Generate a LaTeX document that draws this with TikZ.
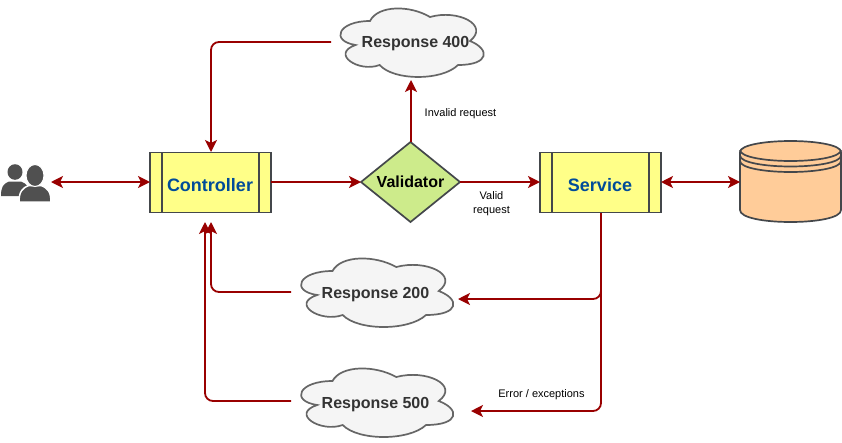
\documentclass[tikz,border=0pt]{standalone}
\usepackage{fontspec}
\setmainfont{Liberation Sans}
\usetikzlibrary{arrows.meta,shapes.geometric}
\definecolor{linkred}{HTML}{990000}
\definecolor{edgegrey}{HTML}{44474B}
\definecolor{cloudgrey}{HTML}{666666}
\definecolor{cloudfill}{HTML}{F5F5F5}
\definecolor{cloudink}{HTML}{333333}
\definecolor{procfill}{HTML}{FFFF88}
\definecolor{procink}{HTML}{004C99}
\definecolor{diafill}{HTML}{CDEB8B}
\definecolor{dbfill}{HTML}{FFCC99}
\definecolor{iconink}{HTML}{505050}
\tikzset{
  arrowtip/.tip={Stealth[length=12pt,width=12pt,inset=3pt]},
  link/.style={draw=linkred,line width=1.8pt,rounded corners=8pt,-{arrowtip}},
  duallink/.style={draw=linkred,line width=1.8pt,{arrowtip}-{arrowtip}},
  procbox/.style={draw=edgegrey,fill=procfill,line width=1.7pt,minimum width=121pt,minimum height=60pt,inner sep=0pt,outer sep=0pt,text=procink,font=\fontsize{18}{21}\selectfont\bfseries},
  procbar/.style={draw=edgegrey,line width=1.7pt},
  gate/.style={diamond,aspect=1.25,draw=edgegrey,fill=diafill,line width=1.7pt,minimum width=99pt,minimum height=80pt,inner sep=0pt,outer sep=0pt,font=\fontsize{16}{19}\selectfont\bfseries},
  cloudpath/.style={draw=cloudgrey,fill=cloudfill,line width=1.7pt},
  cloudlabel/.style={inner sep=0pt,text=cloudink,font=\fontsize{16}{19}\selectfont\bfseries},
  note/.style={inner sep=0pt,align=center,font=\fontsize{11}{14}\selectfont},
  dbshape/.style={draw=edgegrey,fill=dbfill,line width=1.7pt},
  ghost/.style={inner sep=0pt,outer sep=0pt},
}
\newcommand{\cloudat}[4]{%
  \begin{scope}[shift={(#1,#2)},x=#3pt,y=-#4pt]
    \path[cloudpath] (0.25,0.25)
      .. controls (0.05,0.25) and (0,0.5) .. (0.16,0.55)
      .. controls (0,0.66) and (0.18,0.9) .. (0.31,0.8)
      .. controls (0.4,1) and (0.7,1) .. (0.8,0.8)
      .. controls (1,0.8) and (1,0.6) .. (0.875,0.5)
      .. controls (1,0.3) and (0.8,0.1) .. (0.625,0.2)
      .. controls (0.5,0.05) and (0.3,0.05) .. (0.25,0.25) -- cycle;
  \end{scope}}
\begin{document}
\begin{tikzpicture}[x=1pt,y=-1pt]
\useasboundingbox (0,0) rectangle (842,442);
\fill[white] (0,0) rectangle (842,442);

% clouds
\cloudat{330}{1}{160}{80}
\cloudat{290}{251}{170}{80}
\cloudat{290}{361}{170}{80}
\node[cloudlabel] (r400) at (415.5,44) {Response 400};
\node[cloudlabel] (r200) at (375.5,294.5) {Response 200};
\node[cloudlabel] (r500) at (375.5,404.5) {Response 500};
\coordinate (r400out) at (331,42);
\coordinate (r400in) at (411,80);
\coordinate (r200out) at (291,292);
\coordinate (r200in) at (458,299);
\coordinate (r500out) at (291,401);
\coordinate (r500in) at (471,411);

% process boxes
\node[procbox] (ctrl) at (210.5,182.5) {};
\node[inner sep=0pt,text=procink,font=\fontsize{18}{21}\selectfont\bfseries] (ctrlText) at (210,185.5) {Controller};
\draw[procbar] (162,152) -- (162,213) (259,152) -- (259,213);
\node[procbox] (svc) at (600.5,182.5) {};
\node[inner sep=0pt,text=procink,font=\fontsize{18}{21}\selectfont\bfseries] (svcText) at (600,185.5) {Service};
\draw[procbar] (552,152) -- (552,213) (649,152) -- (649,213);
\coordinate (ctrlN) at (211,152);
\coordinate (ctrlSa) at (211,222);
\coordinate (ctrlSb) at (205,222);
\coordinate (ctrlW) at (150,182);
\coordinate (ctrlE) at (271,182);
\coordinate (svcW) at (540,182);
\coordinate (svcE) at (661,182);
\coordinate (svcS) at (601,213);

% decision
\node[gate] (val) at (410.5,182) {\raisebox{-2.5pt}{Validator}};

% data store
\node[ghost,minimum width=101pt,minimum height=81pt] (db) at (790.5,181.5) {};
\path[dbshape] (740,152)
  .. controls (740,145) and (765,141) .. (790.5,141)
  .. controls (816,141) and (841,145) .. (841,152)
  -- (841,210)
  .. controls (841,218) and (816,222) .. (790.5,222)
  .. controls (765,222) and (740,218) .. (740,210) -- cycle;
\draw[draw=edgegrey,line width=1.7pt]
  (740,150) .. controls (740,157) and (765,161) .. (790.5,161)
            .. controls (816,161) and (841,157) .. (841,150)
  (740,155.5) .. controls (740,162.5) and (765,166.5) .. (790.5,166.5)
            .. controls (816,166.5) and (841,162.5) .. (841,155.5)
  (740,161) .. controls (740,168) and (765,172) .. (790.5,172)
            .. controls (816,172) and (841,168) .. (841,161);
\coordinate (dbW) at (740,182);

% users icon
\node[ghost,minimum width=50pt,minimum height=36pt] (users) at (25.5,183) {};
\fill[iconink] (15,172) circle[x radius=7.5pt,y radius=7.8pt];
\fill[iconink] (1,196) .. controls (1,187) and (3,184) .. (9,181.5)
  -- (21,181.5) .. controls (27,184) and (30,187) .. (30,196) -- cycle;
\filldraw[iconink,draw=white,line width=1.5pt] (19,202) .. controls (19,192) and (22,188) .. (29,185.5)
  -- (41,185.5) .. controls (48,188) and (51,192) .. (51,202) -- cycle;
\filldraw[iconink,draw=white,line width=1pt] (35,175.5) circle[x radius=9pt,y radius=11pt];
\coordinate (usersE) at (51,182);

% connectors
\draw[duallink] (usersE) -- (ctrlW);
\draw[link] (ctrlE) -- (val.west);
\draw[link] (val.east) -- (svcW);
\draw[link] (val.north -| r400in) -- (r400in);
\draw[link] (r400out) -| (ctrlN);
\draw[duallink] (svcE) -- (dbW);
\draw[link] (svcS) |- (r200in);
\draw[link] (svcS) |- (r500in);
\draw[link] (r200out) -| (ctrlSa);
\draw[link] (r500out) -| (ctrlSb);

% labels
\node[note] (lblInvalid) at (460.5,113.5) {Invalid request};
\node[note] (lblValid) at (491.5,203.5) {Valid\\request};
\node[note] (lblError) at (541.5,394.5) {Error / exceptions};
\end{tikzpicture}
\end{document}
